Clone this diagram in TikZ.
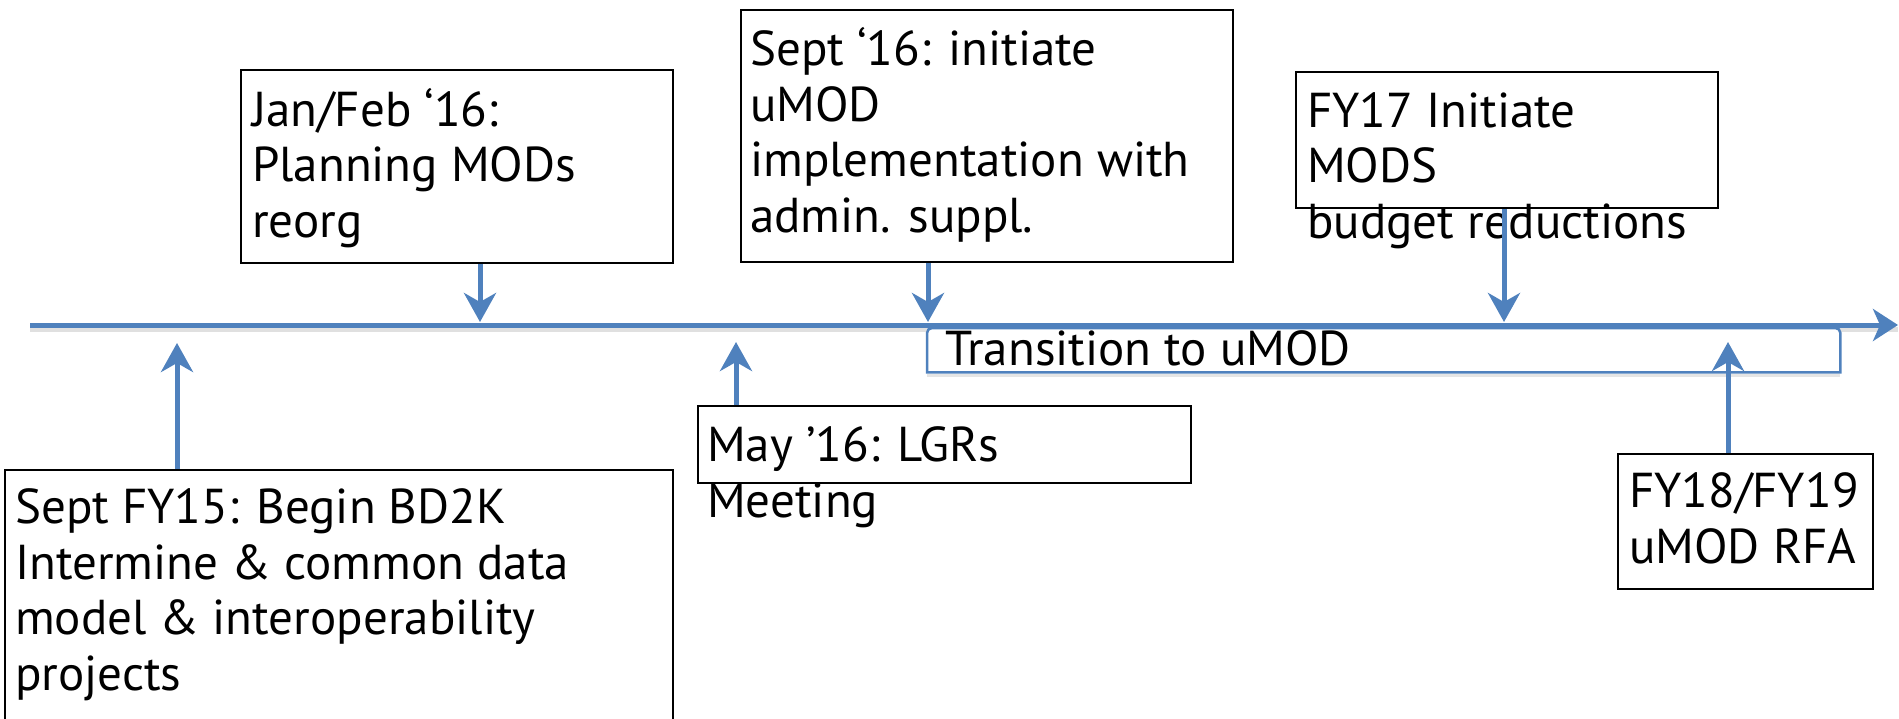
\documentclass[tikz,border=0pt]{standalone}
\usepackage{fontspec}
\setmainfont{PT Sans}
\usetikzlibrary{arrows.meta}
\definecolor{tlblue}{RGB}{79,129,189}
\tikzset{
  evbox/.style={draw=black, line width=2pt, fill=white, inner sep=0pt, anchor=north west},
  % multi-line texts are placed by the baseline of their last line
  evtext/.style={font=\fontsize{49}{55.5}\selectfont, inner sep=0pt, align=left, anchor=base west},
  tick/.style={draw=tlblue, line width=5pt, -{Stealth[length=29pt, width=32pt, inset=9pt]}},
  axis/.style={draw=tlblue, line width=5pt, -{Stealth[length=25pt, width=32pt, inset=7pt]}},
  haze/.style={draw=black!12, line width=5pt},
  tabline/.style={draw=tlblue, line width=2.5pt, fill=white},
}
\begin{document}
\begin{tikzpicture}[x=1pt, y=-1pt]
\useasboundingbox (0,0) rectangle (1899,718);
\clip (0,0) rectangle (1899,718);

% time axis
\coordinate (axL) at (30,325);
\coordinate (axR) at (1898,325);
\draw[haze] ([yshift=-4pt]axL) -- ([yshift=-4pt]axR);
\draw[axis] (axL) -- (axR);

% points on the axis
\coordinate (p1) at (177,343);
\coordinate (p2) at (480,322);
\coordinate (p3) at (928,322);
\coordinate (p4) at (736,342);
\coordinate (p5) at (1504,322);
\coordinate (p6) at (1728,342);

% transition band below the axis
\node[inner sep=0pt, minimum width=913pt, minimum height=44pt, anchor=north west] (tr) at (927,328) {};
\draw[draw=black!10, line width=3pt] ([yshift=-3pt]tr.south west) -- ([yshift=-3pt]tr.south east);
\draw[tabline] (tr.south west) -- ([yshift=-5pt]tr.north west)
  arc[start angle=180, end angle=90, radius=5pt]
  -- ([xshift=-5pt]tr.north east)
  arc[start angle=90, end angle=0, radius=5pt]
  -- (tr.south east) -- cycle;
\node[evtext] (trt) at (945,365) {Transition to uMOD};

% event boxes
\node[evbox, minimum width=668pt, minimum height=280pt] (b1) at (4,469) {};
\node[evbox, minimum width=432pt, minimum height=193pt] (b2) at (240,69) {};
\node[evbox, minimum width=492pt, minimum height=252pt] (b3) at (740,9) {};
\node[evbox, minimum width=493pt, minimum height=77pt] (b4) at (697,405) {};
\node[evbox, minimum width=422pt, minimum height=136pt] (b5) at (1295,71) {};
\node[evbox, minimum width=255pt, minimum height=135pt] (b6) at (1617,453) {};

% event texts
\node[evtext] (t1) at (15,690) {Sept FY15: Begin BD2K\\Intermine \& common data\\model \& interoperability\\projects};
\node[evtext] (t2) at (252,237) {Jan/Feb ‘16:\\Planning MODs\\reorg};
\node[evtext] (t3) at (750,232) {Sept ‘16: initiate\\uMOD\\implementation with\\admin. suppl.};
\node[evtext] (t4) at (707,517) {May ’16: LGRs\\Meeting};
\node[evtext] (t5) at (1307,238) {FY17 Initiate\\MODS\\budget reductions};
\node[evtext] (t6) at (1629,563) {FY18/FY19\\uMOD RFA};

% connectors
\draw[tick] (b1.north -| p1) -- (p1);
\draw[tick] (b2.south -| p2) -- (p2);
\draw[tick] (b3.south -| p3) -- (p3);
\draw[tick] (b4.north -| p4) -- (p4);
\draw[tick] (b5.south -| p5) -- (p5);
\draw[tick] (b6.north -| p6) -- (p6);
\end{tikzpicture}
\end{document}
